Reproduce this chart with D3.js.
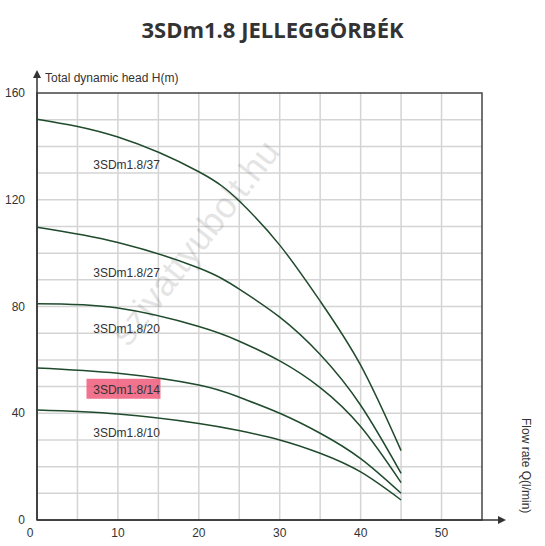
<!DOCTYPE html>
<html><head><meta charset="utf-8">
<script src="https://cdn.jsdelivr.net/npm/d3@7"></script>
<style>body{margin:0;background:#fff}</style>
</head><body><div id="draw"></div>
<script>
var flowRates = [0, 10, 20, 25, 30, 35, 40, 45];
var seriesNames = ["3SDm1.8/37", "3SDm1.8/27", "3SDm1.8/20", "3SDm1.8/14", "3SDm1.8/10"];
var head37 = [150.2, 143.5, 130.5, 119.5, 103, 82, 58, 26];
var head27 = [109.7, 104, 94.4, 86.5, 76, 62, 43, 17.5];
var head20 = [81, 79.4, 72.5, 67, 59.6, 49.6, 35, 14];
var head14 = [57, 55, 50.6, 46, 40, 32.5, 23, 10];
var head10 = [41.2, 39.7, 36.2, 33.5, 30, 25, 18, 7.5];
var labelHeads = [133, 92.5, 71.5, 48.8, 32.5];
var xTicks = [0, 10, 20, 30, 40, 50];
var yTicks = [0, 40, 80, 120, 160];

var allHeads = [head37, head27, head20, head14, head10];
var W = 545, H = 546;
var svg = d3.select('#draw').append('svg').attr('width', W).attr('height', H)
    .style('font-family', 'Arial, "Liberation Sans", sans-serif');

var x = d3.scaleLinear().domain([0, 55]).range([37, 482]);
var y = d3.scaleLinear().domain([0, 160]).range([520, 93]);

svg.append('text').attr('x', W / 2).attr('y', 38).attr('text-anchor', 'middle')
    .attr('font-family', '"Open Sans", sans-serif').attr('font-weight', 'bold')
    .attr('font-size', 22).attr('fill', '#333').text('3SDm1.8 JELLEGGÖRBÉK');

// grid
svg.append('g').selectAll('line').data(d3.range(5, 55, 5)).enter().append('line')
    .attr('x1', function(d){ return x(d); }).attr('x2', function(d){ return x(d); })
    .attr('y1', y(0)).attr('y2', y(160)).attr('stroke', '#d4d4d4').attr('stroke-width', 1.5);
svg.append('g').selectAll('line').data(d3.range(10, 160, 10)).enter().append('line')
    .attr('y1', function(d){ return y(d); }).attr('y2', function(d){ return y(d); })
    .attr('x1', x(0)).attr('x2', x(55)).attr('stroke', '#d4d4d4').attr('stroke-width', 1.5);
svg.append('rect').attr('x', x(0)).attr('y', y(160)).attr('width', x(55) - x(0))
    .attr('height', y(0) - y(160)).attr('fill', 'none').attr('stroke', '#444').attr('stroke-width', 1.5);

// watermark
svg.append('text').attr('transform', 'translate(205,250) rotate(-52)').attr('text-anchor', 'middle')
    .attr('font-size', 36).attr('fill', '#000').attr('opacity', 0.1).text('szivattyubolt.hu');

// axes arrows
svg.append('line').attr('x1', x(0)).attr('x2', x(0)).attr('y1', y(0)).attr('y2', 72).attr('stroke', '#333').attr('stroke-width', 1.5);
svg.append('path').attr('d', 'M33,78 L37,70 L41,78 Z').attr('fill', '#333');
svg.append('line').attr('x1', x(0)).attr('x2', 500).attr('y1', y(0)).attr('y2', y(0)).attr('stroke', '#333').attr('stroke-width', 1.5);
svg.append('path').attr('d', 'M498,516 L506,520 L498,524 Z').attr('fill', '#333');

svg.append('text').attr('x', 45).attr('y', 82).attr('font-size', 12).attr('fill', '#333').text('Total dynamic head H(m)');
svg.append('text').attr('transform', 'translate(522,418) rotate(90)').attr('font-size', 12).attr('fill', '#333').text('Flow rate Q(l/min)');

svg.selectAll('.xt').data(xTicks).enter().append('text').attr('class', 'xt')
    .attr('x', function(d){ return x(d) - (d === 0 ? 7 : 0); }).attr('y', 537).attr('text-anchor', 'middle')
    .attr('font-size', 12).attr('fill', '#333').text(function(d){ return d; });
svg.selectAll('.yt').data(yTicks).enter().append('text').attr('class', 'yt')
    .attr('x', 25).attr('y', function(d){ return y(d) + 4; }).attr('text-anchor', 'end')
    .attr('font-size', 12).attr('fill', '#333').text(function(d){ return d; });

var line = d3.line().curve(d3.curveNatural)
    .x(function(d){ return x(d[0]); }).y(function(d){ return y(d[1]); });
svg.append('g').selectAll('path').data(allHeads).enter().append('path')
    .attr('d', function(h){ return line(flowRates.map(function(q, i){ return [q, h[i]]; })); })
    .attr('fill', 'none').attr('stroke', '#1f4a2c').attr('stroke-width', 1.5);

// highlight box for 3SDm1.8/14
svg.append('rect').attr('x', 86.5).attr('y', y(labelHeads[3]) - 11).attr('width', 74).attr('height', 20)
    .attr('fill', '#ee5a7a').attr('opacity', 0.85);

svg.selectAll('.lbl').data(seriesNames).enter().append('text').attr('class', 'lbl')
    .attr('x', x(6.95)).attr('y', function(d, i){ return y(labelHeads[i]) + 4; })
    .attr('font-size', 12).attr('fill', '#333').text(function(d){ return d; });
</script></body></html>
